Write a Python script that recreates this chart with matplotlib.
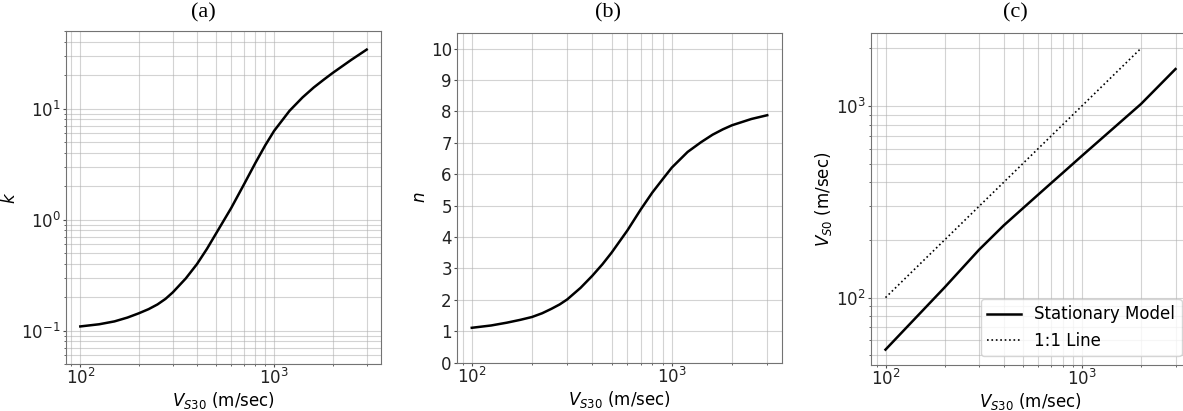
import numpy as np
import matplotlib.pyplot as plt

# values (V_S30 in m/sec)
vs30 = [100, 125, 150, 175, 200, 225, 250, 275, 300, 350, 400, 450, 500, 600,
        700, 800, 900, 1000, 1200, 1400, 1600, 1800, 2000, 2500, 3000]
k_vals = [0.109, 0.114, 0.121, 0.131, 0.143, 0.156, 0.172, 0.193, 0.221, 0.295, 0.398, 0.545,
          0.743, 1.27, 2.09, 3.24, 4.68, 6.31, 9.55, 12.6, 15.5, 18.2, 20.9, 27.5, 34.0]
n_vals = [1.106, 1.18, 1.27, 1.36, 1.45, 1.57, 1.71, 1.85, 2.01, 2.38, 2.76, 3.13,
          3.50, 4.21, 4.88, 5.42, 5.84, 6.21, 6.71, 7.02, 7.26, 7.43, 7.56, 7.76, 7.88]

vs30_c = [100, 200, 300, 400, 500, 600, 700, 800, 1000, 2000, 3000]
vs0_vals = [53.5, 113, 178, 238, 292, 345, 397, 448, 549, 1024, 1560]
one_to_one = [100, 2000]

plt.rcParams['font.size'] = 12
plt.rcParams['legend.fontsize'] = 12
plt.rcParams['xtick.major.size'] = 2.5
plt.rcParams['ytick.major.size'] = 2.5
plt.rcParams['xtick.minor.size'] = 1.5
plt.rcParams['ytick.minor.size'] = 1.5
plt.rcParams['xtick.major.pad'] = 0.5
plt.rcParams['xtick.minor.pad'] = 0.5
plt.rcParams['ytick.major.pad'] = 1.2
plt.rcParams['ytick.minor.pad'] = 1.2
plt.rcParams['axes.labelpad'] = 1.5

W, H = 1183, 411
fig = plt.figure(figsize=(W / 100, H / 100), dpi=100)

# axes boxes in pixels: left, right, top, bottom
boxes = [(66, 381, 31, 364), (457, 782, 33, 362.5), (871, 1190, 33.3, 364.7)]
axes = []
for l, r, t, b in boxes:
    axes.append(fig.add_axes([l / W, (H - b) / H, (r - l) / W, (b - t) / H]))
ax_a, ax_b, ax_c = axes


def style(ax):
    ax.grid(True, which='both', color='#b0b0b0', alpha=0.55, lw=0.8)
    for s in ax.spines.values():
        s.set_color('0.45')
    ax.tick_params(which='both', colors='0.3', labelcolor='#222222')
    ax.set_xlabel(r'$V_{S30}$ (m/sec)')


# (a) k
ax_a.plot(vs30, k_vals, color='black', lw=1.8)
ax_a.set_xscale('log')
ax_a.set_yscale('log')
ax_a.set_ylim(0.05, 50)
ax_a.set_ylabel(r'$k$')
style(ax_a)

# (b) n
ax_b.plot(vs30, n_vals, color='black', lw=1.8)
ax_b.set_xscale('log')
ax_b.set_ylim(0, 10.5)
ax_b.set_yticks(np.arange(0, 11, 1))
ax_b.set_ylabel(r'$n$')
style(ax_b)

# (c) Vs0
ax_c.plot(vs30_c, vs0_vals, color='black', lw=1.8, label='Stationary Model')
ax_c.plot(one_to_one, one_to_one, color='black', ls=':', lw=1.2, label='1:1 Line')
ax_c.set_xscale('log')
ax_c.set_yscale('log')
ax_c.set_ylabel(r'$V_{S0}$ (m/sec)')
style(ax_c)
ax_c.legend(loc='lower right')

# panel captions
for x, lab in [(203, '(a)'), (608, '(b)'), (1015, '(c)')]:
    fig.text(x / W, 1 - 12.5 / H, lab, ha='center', va='center',
             family='Liberation Serif', fontsize=16)

fig.savefig('out.png', dpi=100)
